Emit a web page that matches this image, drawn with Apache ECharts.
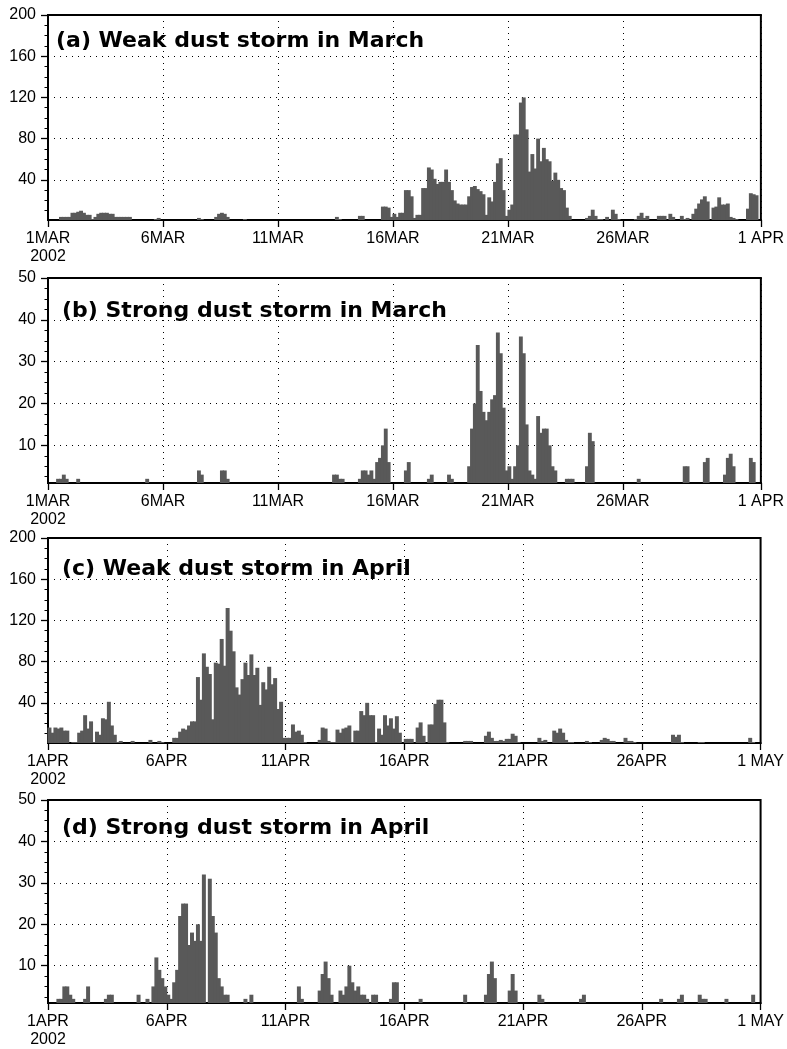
<!DOCTYPE html>
<html>
<head>
<meta charset="utf-8">
<script src="https://cdn.jsdelivr.net/npm/echarts@6/dist/echarts.min.js"></script>
<style>
html,body{margin:0;padding:0;background:#fff;}
#chart{width:787px;height:1049px;}
</style>
</head>
<body>
<div id="chart"></div>
<script>
// ---- DATA (3-hourly values, 8 per day) ----
const weakMarch = [
  0,0,0,0,4,4,4,4,   8,8,9,10,8,6,6,2,   4,7,8,8,8,7,7,4,   4,4,4,4,4,0,0,0,
  0,0,0,0,0,2,3,0,   0,0,0,0,0,0,0,0,   0,0,0,0,3,2,0,0,   0,0,4,7,8,7,4,0,
  0,0,0,0,2,0,0,0,   0,0,0,0,0,0,0,0,   0,0,0,0,0,0,0,0,   0,0,0,0,0,0,0,0,
  0,0,0,0,4,2,0,0,   0,0,0,0,5,5,0,0,   0,0,0,0,14,14,13,4,   7,4,8,8,30,30,24,3,
  6,6,32,32,52,50,41,36,   38,38,50,38,30,20,17,16,   16,16,24,33,34,31,29,26,   6,23,19,38,56,61,30,5,
  11,16,84,84,115,120,89,48,   65,51,80,58,71,60,58,39,   47,40,32,30,13,5,0,0,   0,0,0,3,5,11,5,2,
  2,0,4,0,11,7,2,0,   0,0,0,0,2,5,8,3,   5,0,0,0,5,5,5,0,   7,4,0,0,5,2,3,0,
  7,12,17,21,24,19,1,13,   14,23,16,16,17,4,3,2,   0,0,0,12,27,26,25,0
];
const strongMarch = [
  0,0,0,2,2,3,2,0,   0,0,2,0,0,0,0,0,   0,0,0,0,0,0,0,0,   0,0,0,0,0,0,0,0,
  0,0,2,0,0,0,0,0,   0,0,0,0,0,0,0,0,   0,0,0,0,4,3,0,0,   0,0,0,0,4,4,2,0,
  0,0,0,0,0,0,0,0,   0,0,0,0,0,0,0,0,   0,0,0,0,0,0,0,0,   0,0,0,0,0,0,0,0,
  0,0,0,3,3,2,2,0,   0,0,0,0,2,4,4,3,   4,2,6,7,10,14,6,0,   0,0,0,0,4,6,0,0,
  0,0,0,0,2,3,0,0,   0,0,0,3,2,0,0,0,   0,0,5,14,20,34,23,18,   16,18,21,22,37,32,19,4,
  5,2,5,10,36,32,15,4,   3,2,17,13,14,14,10,5,   4,0,0,0,2,2,2,0,   0,0,0,5,13,11,0,0,
  0,0,0,0,0,0,0,0,   0,0,0,0,0,2,0,0,   0,0,0,0,0,0,0,0,   0,0,0,0,0,5,5,0,
  0,0,0,0,6,7,0,0,   0,0,0,3,7,8,5,0,   0,0,0,0,7,6,0,0
];
const weakApril = [
  16,11,16,15,16,13,13,1,   2,2,11,13,28,15,22,2,   12,9,25,24,41,18,9,2,   3,0,0,0,3,0,0,0,
  0,0,4,0,0,3,2,0,   0,0,6,6,12,15,14,18,   22,22,65,43,88,75,68,24,   79,78,102,76,132,110,90,55,
  48,63,79,67,87,67,74,38,   60,53,75,58,64,34,41,6,   6,6,19,12,13,9,2,1,   1,1,1,4,16,15,3,2,
  2,14,11,15,16,18,2,13,   13,32,28,40,28,28,2,15,   9,28,18,25,15,27,11,1,   5,5,5,1,16,21,8,1,
  19,19,39,43,43,21,2,0,   0,0,1,1,3,3,3,0,   0,0,0,8,12,6,3,3,   4,3,5,5,10,8,2,0,
  0,0,0,0,0,6,3,4,   0,0,13,11,15,11,4,2,   2,1,1,0,0,3,2,0,   0,0,4,6,5,3,3,0,
  0,0,6,3,3,2,0,0,   0,0,0,0,0,0,0,0,   0,0,9,7,9,2,0,0,   0,0,0,2,2,0,0,0,
  0,0,0,0,0,0,0,0,   0,0,0,0,6,2,0,0
];
const strongApril = [
  0,0,0,2,2,5,5,3,   2,0,0,0,2,5,0,0,   0,0,0,2,3,3,0,0,   0,0,0,0,0,0,3,0,
  0,2,0,5,12,9,7,5,   3,2,6,9,22,25,25,15,   18,16,20,16,32,0,31,22,   18,7,5,3,3,0,0,0,
  0,0,2,0,3,0,0,0,   0,0,0,0,0,0,0,0,   0,0,0,0,5,2,0,0,   0,0,0,4,8,11,7,3,
  0,0,4,3,5,10,6,4,   5,3,3,2,0,3,3,0,   0,0,0,2,6,6,0,0,   0,0,0,0,0,2,0,0,
  0,0,0,0,0,0,0,0,   0,0,0,0,3,0,0,0,   0,0,0,3,8,11,7,0,   0,0,0,4,8,4,0,0,
  0,0,0,0,0,3,2,0,   0,0,0,0,0,0,0,0,   0,0,0,2,3,0,0,0,   0,0,0,0,0,0,0,0,
  0,0,0,0,0,0,0,0,   0,0,0,0,0,0,2,0,   0,0,0,0,2,3,0,0,   0,0,0,3,2,2,0,0,
  0,0,0,0,2,0,0,0,   0,0,0,0,0,3,0,0
];
const stepsPerDay = 8;
const marchTickDays = [0, 5, 10, 15, 20, 25, 31];
const marchTickLabels = ['1MAR\n2002', '6MAR', '11MAR', '16MAR', '21MAR', '26MAR', '1 APR'];
const aprilTickDays = [0, 5, 10, 15, 20, 25, 30];
const aprilTickLabels = ['1APR\n2002', '6APR', '11APR', '16APR', '21APR', '26APR', '1 MAY'];
const weakTicks = [40, 80, 120, 160, 200];
const strongTicks = [10, 20, 30, 40, 50];
const panelTitles = [
  '(a) Weak dust storm in March',
  '(b) Strong dust storm in March',
  '(c) Weak dust storm in April',
  '(d) Strong dust storm in April'
];

// ---- LAYOUT ----
const plotLeft = 48, plotWidth = 714, plotHeight = 205;
const minorPerMajor = 4;
const panels = [
  {data: weakMarch,   days: 31, tDays: marchTickDays, tLabels: marchTickLabels, yTicks: weakTicks,   top: 15,  titleTop: 30,  titleLeft: 56},
  {data: strongMarch, days: 31, tDays: marchTickDays, tLabels: marchTickLabels, yTicks: strongTicks, top: 278, titleTop: 300, titleLeft: 62},
  {data: weakApril,   days: 30, tDays: aprilTickDays, tLabels: aprilTickLabels, yTicks: weakTicks,   top: 538, titleTop: 558, titleLeft: 62},
  {data: strongApril, days: 30, tDays: aprilTickDays, tLabels: aprilTickLabels, yTicks: strongTicks, top: 800, titleTop: 817, titleLeft: 62}
];

const dotted = {color: '#000', width: 1, type: [1, 5]};
const labelFont = {color: '#000', fontFamily: 'Liberation Sans, Arial, sans-serif', fontSize: 16};
const barColor = '#595959';

const option = {animation: false, backgroundColor: '#fff', title: [], grid: [], xAxis: [], yAxis: [], series: []};

panels.forEach((p, k) => {
  const slotPx = plotWidth / (p.days * stepsPerDay);
  const yMax = p.yTicks[p.yTicks.length - 1];
  const majorStep = p.yTicks[1] - p.yTicks[0];
  const minorVals = [];
  for (let m = 1; m * majorStep / minorPerMajor < yMax; m++) {
    if (m % minorPerMajor !== 0) minorVals.push(m * majorStep / minorPerMajor);
  }
  option.title.push({
    text: panelTitles[k], left: p.titleLeft, top: p.titleTop, padding: 0,
    textStyle: {fontFamily: 'DejaVu Sans', fontWeight: 'bold', fontSize: 22, color: '#000'}
  });
  option.grid.push({
    left: plotLeft, width: plotWidth, top: p.top, height: plotHeight,
    show: true, borderColor: '#000', borderWidth: 2, backgroundColor: 'transparent'
  });
  option.xAxis.push({
    type: 'value', gridIndex: k, min: 0, max: p.days,
    axisLine: {show: true, lineStyle: {color: '#000', width: 2}},
    axisTick: {show: true, inside: false, length: 7, customValues: p.tDays, lineStyle: {color: '#000', width: 1.3}},
    axisLabel: Object.assign({
      customValues: p.tDays, margin: 10, lineHeight: 18, hideOverlap: false,
      formatter: v => { const j = p.tDays.indexOf(Math.round(v)); return j >= 0 ? p.tLabels[j] : ''; }
    }, labelFont),
    splitLine: {show: true, lineStyle: dotted}
  });
  // main y axis (labels, major ticks, grid lines)
  option.yAxis.push({
    type: 'value', gridIndex: k, min: 1, max: yMax, position: 'left',
    axisLine: {show: true, lineStyle: {color: '#000', width: 2}},
    axisTick: {show: true, inside: false, length: 7, customValues: p.yTicks, lineStyle: {color: '#000', width: 1.3}},
    axisLabel: Object.assign({customValues: p.yTicks, margin: 12, hideOverlap: false}, labelFont),
    splitLine: {show: true, lineStyle: dotted}
  });
  // overlay y axis for minor ticks only
  option.yAxis.push({
    type: 'value', gridIndex: k, min: 1, max: yMax, position: 'left', offset: 0,
    axisLine: {show: false},
    axisTick: {show: true, inside: false, length: 3.5, customValues: minorVals, lineStyle: {color: '#000', width: 1}},
    axisLabel: {show: false},
    splitLine: {show: false}
  });
  option.series.push({
    type: 'bar', xAxisIndex: k, yAxisIndex: 2 * k, clip: true, silent: true,
    barWidth: slotPx + 1, z: 1,
    itemStyle: {color: barColor},
    data: p.data.map((v, i) => [(i + 0.5) / stepsPerDay, v]).filter(d => d[1] > 0)
  });
});

const chart = echarts.init(document.getElementById('chart'), null, {renderer: 'canvas'});
chart.setOption(option);
</script>
</body>
</html>
